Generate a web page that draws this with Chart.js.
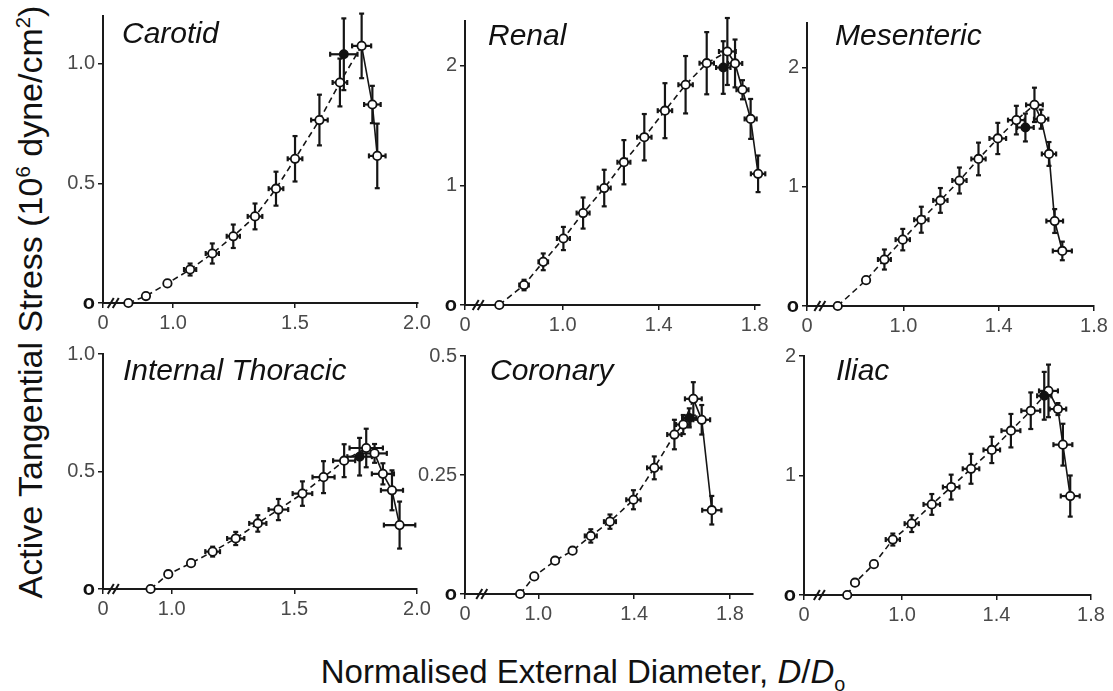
<!DOCTYPE html>
<html>
<head>
<meta charset="utf-8">
<script src="https://cdn.jsdelivr.net/npm/chart.js@4.4.1/dist/chart.umd.min.js"></script>
<style>
  html, body { margin:0; padding:0; background:#fff; }
  #wrap { position:relative; width:1113px; height:691px; overflow:hidden; background:#fff; font-family:"Liberation Sans", Arial, sans-serif; color:#111; }
  .panel { position:absolute; }
  .ptitle { position:absolute; font-style:italic; font-size:30px; line-height:30px; white-space:nowrap; color:#111; }
  #ytitle { position:absolute; left:30px; top:302px; transform:translate(-50%,-50%) rotate(-90deg); font-size:34px; line-height:34px; white-space:nowrap; }
  #xtitle { position:absolute; left:583px; top:655px; transform:translateX(-50%); font-size:33px; line-height:33px; white-space:nowrap; }
  sup, sub { font-size:60%; line-height:0; }
</style>
</head>
<body>
<div id="wrap">
  <div id="ytitle">Active Tangential Stress (10<sup>6</sup> dyne/cm<sup>2</sup>)</div>
  <div id="xtitle">Normalised External Diameter, <i>D</i>/<i>D</i><sub>o</sub></div>
</div>
<script>
// ---------------- DATA ----------------
const panelNames = ["Carotid", "Renal", "Mesenteric", "Internal Thoracic", "Coronary", "Iliac"];

// Carotid
const carotidX    = [0.817, 0.889, 0.977, 1.070, 1.161, 1.247, 1.336, 1.422, 1.500, 1.600, 1.684, 1.773, 1.817, 1.837];
const carotidY    = [0.000, 0.029, 0.082, 0.140, 0.207, 0.279, 0.362, 0.478, 0.603, 0.765, 0.922, 1.075, 0.830, 0.615];
const carotidXErr = [0, 0, 0, 0.025, 0.027, 0.027, 0.030, 0.030, 0.030, 0.034, 0.030, 0.039, 0.034, 0.034];
const carotidYErr = [0, 0, 0, 0.025, 0.042, 0.049, 0.054, 0.071, 0.095, 0.106, 0.100, 0.135, 0.078, 0.135];
const carotidFilledX = [1.700], carotidFilledY = [1.040], carotidFilledXErr = [0.056], carotidFilledYErr = [0.150];

// Renal
const renalX    = [0.736, 0.839, 0.919, 1.003, 1.085, 1.173, 1.255, 1.340, 1.426, 1.512, 1.600, 1.686, 1.718, 1.749, 1.783, 1.814];
const renalY    = [0.000, 0.167, 0.361, 0.556, 0.769, 0.978, 1.194, 1.403, 1.625, 1.842, 2.022, 2.120, 2.020, 1.800, 1.556, 1.097];
const renalXErr = [0, 0.020, 0.020, 0.027, 0.027, 0.027, 0.027, 0.030, 0.030, 0.030, 0.030, 0.035, 0.030, 0.025, 0.025, 0.030];
const renalYErr = [0, 0.044, 0.070, 0.097, 0.130, 0.153, 0.185, 0.194, 0.230, 0.240, 0.260, 0.280, 0.200, 0.080, 0.167, 0.153];
const renalFilledX = [1.669], renalFilledY = [1.986], renalFilledXErr = [0.030], renalFilledYErr = [0.220];

// Mesenteric
const mesX    = [0.724, 0.843, 0.920, 0.997, 1.075, 1.155, 1.235, 1.315, 1.396, 1.474, 1.550, 1.578, 1.611, 1.635, 1.667];
const mesY    = [0.000, 0.217, 0.390, 0.557, 0.724, 0.886, 1.053, 1.234, 1.406, 1.560, 1.688, 1.568, 1.276, 0.713, 0.462];
const mesXErr = [0, 0, 0.027, 0.030, 0.030, 0.030, 0.030, 0.030, 0.035, 0.035, 0.035, 0.030, 0.030, 0.035, 0.040];
const mesYErr = [0, 0, 0.084, 0.090, 0.109, 0.104, 0.109, 0.137, 0.131, 0.120, 0.144, 0.080, 0.100, 0.100, 0.078];
const mesFilledX = [1.512], mesFilledY = [1.498], mesFilledXErr = [0.035], mesFilledYErr = [0.117];

// Internal Thoracic
const itX    = [0.914, 0.986, 1.079, 1.167, 1.261, 1.351, 1.435, 1.533, 1.619, 1.703, 1.793, 1.827, 1.861, 1.898, 1.929];
const itY    = [0.000, 0.063, 0.110, 0.159, 0.215, 0.279, 0.338, 0.406, 0.476, 0.546, 0.600, 0.577, 0.490, 0.420, 0.272];
const itXErr = [0, 0, 0, 0.030, 0.035, 0.035, 0.040, 0.040, 0.045, 0.045, 0.068, 0.050, 0.045, 0.045, 0.064];
const itYErr = [0, 0, 0, 0.021, 0.028, 0.035, 0.045, 0.052, 0.068, 0.070, 0.082, 0.040, 0.045, 0.085, 0.100];
const itFilledX = [1.766], itFilledY = [0.563], itFilledXErr = [0.050], itFilledYErr = [0.080];

// Coronary
const corX    = [0.924, 0.983, 1.070, 1.143, 1.219, 1.299, 1.397, 1.484, 1.568, 1.605, 1.647, 1.682, 1.724];
const corY    = [0.000, 0.037, 0.070, 0.091, 0.122, 0.152, 0.198, 0.265, 0.335, 0.356, 0.410, 0.366, 0.176];
const corXErr = [0, 0, 0, 0, 0.025, 0.025, 0.030, 0.030, 0.030, 0.030, 0.035, 0.035, 0.040];
const corYErr = [0, 0, 0, 0, 0.014, 0.015, 0.020, 0.024, 0.031, 0.020, 0.035, 0.031, 0.030];
const corFilledX = [1.630], corFilledY = [0.370], corFilledXErr = [0.030], corFilledYErr = [0.020];

// Iliac
const iliacX    = [0.768, 0.801, 0.881, 0.961, 1.041, 1.126, 1.208, 1.292, 1.380, 1.461, 1.545, 1.620, 1.660, 1.681, 1.712];
const iliacY    = [0.000, 0.103, 0.258, 0.464, 0.597, 0.758, 0.903, 1.056, 1.214, 1.375, 1.542, 1.708, 1.556, 1.258, 0.828];
const iliacXErr = [0, 0, 0, 0.030, 0.030, 0.035, 0.035, 0.035, 0.035, 0.040, 0.040, 0.040, 0.035, 0.040, 0.040];
const iliacYErr = [0, 0, 0, 0.050, 0.070, 0.087, 0.104, 0.125, 0.110, 0.140, 0.153, 0.220, 0.050, 0.175, 0.172];
const iliacFilledX = [1.602], iliacFilledY = [1.667], iliacFilledXErr = [0.030], iliacFilledYErr = [0.200];

// Tick values and labels
const xTicksA = [1.0, 1.5, 2.0], xTickLabelsA = ["1.0", "1.5", "2.0"];
const xTicksB = [1.0, 1.4, 1.8], xTickLabelsB = ["1.0", "1.4", "1.8"];
const yTicksCarotid = [0.5, 1.0],  yLabelsCarotid = ["0.5", "1.0"];
const yTicksRenal   = [1, 2],      yLabelsRenal   = ["1", "2"];
const yTicksIT      = [0.5, 1.0],  yLabelsIT      = ["0.5", "1.0"];
const yTicksCor     = [0.25, 0.5], yLabelsCor     = ["0.25", "0.5"];

// ---------------- LAYOUT (pixels / axis ranges) ----------------
const FONT = '"Liberation Sans", Arial, sans-serif';
const panels = [
  { name: panelNames[0], x: carotidX, y: carotidY, xe: carotidXErr, ye: carotidYErr, fx: carotidFilledX, fy: carotidFilledY, fxe: carotidFilledXErr, fye: carotidFilledYErr,
    peak: 11, brk: 0.755, L:103, R:418, T:15, B:303, xmin:0.713, xmax:2.004, ymax:1.2, xt:xTicksA, xl:xTickLabelsA, yt:yTicksCarotid, yl:yLabelsCarotid, tl:122, tt:18 },
  { name: panelNames[1], x: renalX, y: renalY, xe: renalXErr, ye: renalYErr, fx: renalFilledX, fy: renalFilledY, fxe: renalFilledXErr, fye: renalFilledYErr,
    peak: 11, brk: 0.648, L:465, R:760, T:20, B:305, xmin:0.593, xmax:1.822, ymax:2.375, xt:xTicksB, xl:xTickLabelsB, yt:yTicksRenal, yl:yLabelsRenal, tl:488, tt:20 },
  { name: panelNames[2], x: mesX, y: mesY, xe: mesXErr, ye: mesYErr, fx: mesFilledX, fy: mesFilledY, fxe: mesFilledXErr, fye: mesFilledYErr,
    peak: 10, brk: 0.649, L:807, R:1094, T:22, B:306, xmin:0.595, xmax:1.8, ymax:2.375, xt:xTicksB, xl:xTickLabelsB, yt:yTicksRenal, yl:yLabelsRenal, tl:835, tt:20 },
  { name: panelNames[3], x: itX, y: itY, xe: itXErr, ye: itYErr, fx: itFilledX, fy: itFilledY, fxe: itFilledXErr, fye: itFilledYErr,
    peak: 10, brk: 0.762, L:103, R:417, T:353, B:589, xmin:0.72, xmax:2.0, ymax:1.0, xt:xTicksA, xl:xTickLabelsA, yt:yTicksIT, yl:yLabelsIT, tl:123, tt:355 },
  { name: panelNames[4], x: corX, y: corY, xe: corXErr, ye: corYErr, fx: corFilledX, fy: corFilledY, fxe: corFilledXErr, fye: corFilledYErr,
    peak: 10, brk: 0.764, L:465, R:753, T:355, B:594, xmin:0.694, xmax:1.896, ymax:0.5, xt:xTicksB, xl:xTickLabelsB, yt:yTicksCor, yl:yLabelsCor, tl:490, tt:355 },
  { name: panelNames[5], x: iliacX, y: iliacY, xe: iliacXErr, ye: iliacYErr, fx: iliacFilledX, fy: iliacFilledY, fxe: iliacFilledXErr, fye: iliacFilledYErr,
    peak: 11, brk: 0.65, L:804, R:1091, T:355, B:595, xmin:0.585, xmax:1.8, ymax:2.0, xt:xTicksB, xl:xTickLabelsB, yt:yTicksRenal, yl:yLabelsRenal, tl:836, tt:355 }
];

const errBarPlugin = {
  id: 'errbars',
  beforeDatasetsDraw(chart) {
    const ctx = chart.ctx, xs = chart.scales.x, ys = chart.scales.y;
    ctx.save();
    ctx.strokeStyle = '#151515';
    ctx.lineWidth = 2.2;
    const seg = (x1, y1, x2, y2) => { ctx.beginPath(); ctx.moveTo(x1, y1); ctx.lineTo(x2, y2); ctx.stroke(); };
    chart.data.datasets.forEach(ds => {
      if (!ds.xErr) return;
      ds.data.forEach((p, i) => {
        const px = xs.getPixelForValue(p.x), py = ys.getPixelForValue(p.y);
        const ey = ds.yErr[i], ex = ds.xErr[i];
        if (ey > 0) {
          const y1 = ys.getPixelForValue(p.y + ey), y2 = ys.getPixelForValue(p.y - ey);
          seg(px, y1, px, y2); seg(px - 2.5, y1, px + 2.5, y1); seg(px - 2.5, y2, px + 2.5, y2);
        }
        if (ex > 0) {
          const x1 = xs.getPixelForValue(p.x - ex), x2 = xs.getPixelForValue(p.x + ex);
          seg(x1, py, x2, py); seg(x1, py - 2.5, x1, py + 2.5); seg(x2, py - 2.5, x2, py + 2.5);
        }
      });
    });
    ctx.restore();
  },
  afterDraw(chart, args, opts) {
    if (opts.breakAt == null) return;
    const ctx = chart.ctx, xs = chart.scales.x, ys = chart.scales.y;
    const bx = xs.getPixelForValue(opts.breakAt), by = ys.getPixelForValue(0);
    ctx.save();
    ctx.strokeStyle = '#151515';
    ctx.lineWidth = 2;
    [-2.5, 2.5].forEach(d => {
      ctx.beginPath(); ctx.moveTo(bx + d - 3, by + 5); ctx.lineTo(bx + d + 3, by - 5); ctx.stroke();
    });
    ctx.restore();
  }
};

const wrap = document.getElementById('wrap');
const PADL = 60, PADT = 14, PADR = 24, PADB = 40;

panels.forEach(pn => {
  const div = document.createElement('div');
  div.className = 'panel';
  const w = pn.R - pn.L + PADL + PADR, h = pn.B - pn.T + PADT + PADB;
  div.style.left = (pn.L - PADL) + 'px';
  div.style.top = (pn.T - PADT) + 'px';
  div.style.width = w + 'px';
  div.style.height = h + 'px';
  const cv = document.createElement('canvas');
  cv.width = w; cv.height = h;
  cv.style.width = w + 'px'; cv.style.height = h + 'px';
  div.appendChild(cv);
  wrap.appendChild(div);

  const t = document.createElement('div');
  t.className = 'ptitle';
  t.textContent = pn.name;
  t.style.left = pn.tl + 'px';
  t.style.top = pn.tt + 'px';
  wrap.appendChild(t);

  const openData = pn.x.map((v, i) => ({ x: v, y: pn.y[i] }));
  const filledData = pn.fx.map((v, i) => ({ x: v, y: pn.fy[i] }));
  const xTickVals = [pn.xmin].concat(pn.xt);
  const xTickLbls = ["0"].concat(pn.xl);
  const yTickVals = [0].concat(pn.yt);
  const yTickLbls = ["o"].concat(pn.yl);

  new Chart(cv, {
    type: 'scatter',
    data: {
      datasets: [
        { label: 'filled', data: filledData, xErr: pn.fxe, yErr: pn.fye, showLine: false,
          pointRadius: 4.2, pointBackgroundColor: '#111', pointBorderColor: '#111', pointBorderWidth: 1.5, clip: false, order: 0 },
        { label: 'open', data: openData, xErr: pn.xe, yErr: pn.ye, showLine: true,
          borderColor: '#151515', borderWidth: 1.6, tension: 0,
          segment: { borderDash: c => (c.p0DataIndex >= pn.peak ? [] : [6, 4]) },
          pointRadius: 4.2, pointBackgroundColor: '#fff', pointBorderColor: '#111', pointBorderWidth: 1.8, clip: false, order: 1 }
      ]
    },
    options: {
      responsive: false,
      animation: false,
      devicePixelRatio: 1,
      layout: { padding: { left: 0, top: PADT, right: PADR, bottom: 0 } },
      plugins: { legend: { display: false }, tooltip: { enabled: false }, errbars: { breakAt: pn.brk } },
      scales: {
        x: {
          type: 'linear', min: pn.xmin, max: pn.xmax,
          border: { display: true, color: '#1a1a1a', width: 2 },
          grid: { drawOnChartArea: false, drawTicks: true, tickLength: 5, color: '#1a1a1a', lineWidth: 1.5 },
          ticks: { autoSkip: false, maxRotation: 0, padding: 3, color: '#4a4a4a', font: { family: FONT, size: 20 },
                   callback: (v, i) => xTickLbls[i] },
          afterBuildTicks: s => { s.ticks = xTickVals.map(v => ({ value: v })); },
          afterFit: s => { s.height = PADB; }
        },
        y: {
          type: 'linear', min: 0, max: pn.ymax,
          border: { display: true, color: '#1a1a1a', width: 2 },
          grid: { drawOnChartArea: false, drawTicks: true, tickLength: 5, color: '#1a1a1a', lineWidth: 1.5 },
          ticks: { autoSkip: false, padding: 3,
                   color: c => (c.index === 0 ? '#111' : '#4a4a4a'),
                   font: c => (c.index === 0 ? { family: FONT, size: 20, weight: 'bold' } : { family: FONT, size: 20 }),
                   callback: (v, i) => yTickLbls[i] },
          afterBuildTicks: s => { s.ticks = yTickVals.map(v => ({ value: v })); },
          afterFit: s => { s.width = PADL; }
        }
      }
    },
    plugins: [errBarPlugin]
  });
});
</script>
</body>
</html>
